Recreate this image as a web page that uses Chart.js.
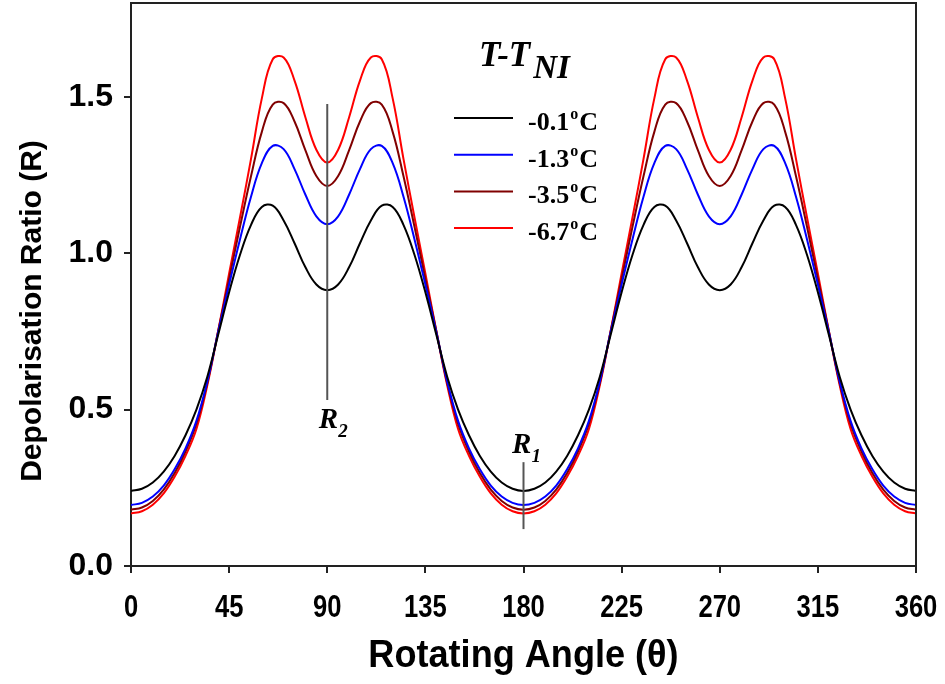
<!DOCTYPE html>
<html>
<head>
<meta charset="utf-8">
<script src="https://cdn.jsdelivr.net/npm/chart.js@4.4.1/dist/chart.umd.min.js"></script>
<style>
    body { margin: 0; background: #fff; }
</style>
</head>
<body>
<canvas id="depolChart" width="945" height="684"></canvas>
<script>
// rotation angle, degrees
const angles = [0, 5, 10, 15, 20, 25, 30, 35, 40, 45, 50, 55, 60, 65, 70, 75, 80, 85, 90,
    95, 100, 105, 110, 115, 120, 125, 130, 135, 140, 145, 150, 155, 160, 165, 170, 175, 180,
    185, 190, 195, 200, 205, 210, 215, 220, 225, 230, 235, 240, 245, 250, 255, 260, 265, 270,
    275, 280, 285, 290, 295, 300, 305, 310, 315, 320, 325, 330, 335, 340, 345, 350, 355, 360];

// depolarisation ratio for each T - T_NI
const ratioM01 = [0.240, 0.247, 0.267, 0.302, 0.352, 0.418, 0.500, 0.605, 0.740, 0.875, 0.995, 1.090, 1.148, 1.152, 1.105, 1.032, 0.955, 0.900, 0.882,
    0.900, 0.955, 1.032, 1.105, 1.152, 1.148, 1.090, 0.995, 0.875, 0.740, 0.605, 0.500, 0.418, 0.352, 0.302, 0.267, 0.247, 0.240,
    0.247, 0.267, 0.302, 0.352, 0.418, 0.500, 0.605, 0.740, 0.875, 0.995, 1.090, 1.148, 1.152, 1.105, 1.032, 0.955, 0.900, 0.882,
    0.900, 0.955, 1.032, 1.105, 1.152, 1.148, 1.090, 0.995, 0.875, 0.740, 0.605, 0.500, 0.418, 0.352, 0.302, 0.267, 0.247, 0.240];
const ratioM13 = [0.195, 0.202, 0.222, 0.257, 0.309, 0.376, 0.464, 0.590, 0.748, 0.900, 1.045, 1.180, 1.288, 1.343, 1.333, 1.269, 1.187, 1.118, 1.093,
    1.118, 1.187, 1.269, 1.333, 1.343, 1.288, 1.180, 1.045, 0.900, 0.748, 0.590, 0.464, 0.376, 0.309, 0.257, 0.222, 0.202, 0.195,
    0.202, 0.222, 0.257, 0.309, 0.376, 0.464, 0.590, 0.748, 0.900, 1.045, 1.180, 1.288, 1.343, 1.333, 1.269, 1.187, 1.118, 1.093,
    1.118, 1.187, 1.269, 1.333, 1.343, 1.288, 1.180, 1.045, 0.900, 0.748, 0.590, 0.464, 0.376, 0.309, 0.257, 0.222, 0.202, 0.195];
const ratioM35 = [0.180, 0.187, 0.208, 0.244, 0.297, 0.366, 0.455, 0.585, 0.752, 0.918, 1.085, 1.245, 1.388, 1.475, 1.480, 1.421, 1.329, 1.247, 1.215,
    1.247, 1.329, 1.421, 1.480, 1.475, 1.388, 1.245, 1.085, 0.918, 0.752, 0.585, 0.455, 0.366, 0.297, 0.244, 0.208, 0.187, 0.180,
    0.187, 0.208, 0.244, 0.297, 0.366, 0.455, 0.585, 0.752, 0.918, 1.085, 1.245, 1.388, 1.475, 1.480, 1.421, 1.329, 1.247, 1.215,
    1.247, 1.329, 1.421, 1.480, 1.475, 1.388, 1.245, 1.085, 0.918, 0.752, 0.585, 0.455, 0.366, 0.297, 0.244, 0.208, 0.187, 0.180];
const ratioM67 = [0.168, 0.175, 0.196, 0.232, 0.285, 0.352, 0.438, 0.578, 0.752, 0.935, 1.115, 1.300, 1.495, 1.620, 1.626, 1.552, 1.434, 1.331, 1.290,
    1.331, 1.434, 1.552, 1.626, 1.620, 1.495, 1.300, 1.115, 0.935, 0.752, 0.578, 0.438, 0.352, 0.285, 0.232, 0.196, 0.175, 0.168,
    0.175, 0.196, 0.232, 0.285, 0.352, 0.438, 0.578, 0.752, 0.935, 1.115, 1.300, 1.495, 1.620, 1.626, 1.552, 1.434, 1.331, 1.290,
    1.331, 1.434, 1.552, 1.626, 1.620, 1.495, 1.300, 1.115, 0.935, 0.752, 0.578, 0.438, 0.352, 0.285, 0.232, 0.196, 0.175, 0.168];

const seriesNames = ['-0.1', '-1.3', '-3.5', '-6.7'];
const xTicks = [0, 45, 90, 135, 180, 225, 270, 315, 360];
const yTicks = [0, 0.5, 1.0, 1.5];

const lineColors = ['#000000', '#0000ff', '#800000', '#ff0000'];
const axisColor = '#222';
const serif = '"Liberation Serif", "Times New Roman", serif';
const sans = '"Liberation Sans", Arial, sans-serif';

const toPoints = vals => vals.map((v, i) => ({ x: angles[i], y: v }));

// frame, x tick labels, axis titles, R1/R2 markers and the legend
const extras = {
    id: 'extras',
    afterDraw(chart) {
        const { ctx, chartArea: a, scales: { x, y } } = chart;
        ctx.save();

        // top and right edges of the box
        ctx.strokeStyle = axisColor;
        ctx.lineWidth = 2;
        ctx.beginPath();
        ctx.moveTo(a.left, a.top);
        ctx.lineTo(a.right, a.top);
        ctx.lineTo(a.right, a.bottom);
        ctx.stroke();

        // x tick labels in a narrow bold face
        ctx.fillStyle = '#000';
        ctx.textAlign = 'center';
        ctx.textBaseline = 'alphabetic';
        ctx.font = 'bold 32px ' + sans;
        xTicks.forEach(v => {
            ctx.save();
            ctx.translate(x.getPixelForValue(v), 617);
            ctx.scale(0.8, 1);
            ctx.fillText(String(v), 0, 0);
            ctx.restore();
        });

        // axis titles
        ctx.textBaseline = 'middle';
        ctx.font = 'bold 30px ' + sans;
        ctx.save();
        ctx.translate(33, 311);
        ctx.rotate(-Math.PI / 2);
        ctx.fillText('Depolarisation Ratio (R)', 0, 0);
        ctx.restore();
        ctx.save();
        ctx.translate((a.left + a.right) / 2, 657);
        ctx.scale(0.95, 1);
        ctx.font = 'bold 38px ' + sans;
        ctx.fillText('Rotating Angle (\u03b8)', 0, 0);
        ctx.restore();

        // R2 / R1 marker lines
        const markers = [
            { angle: 90, from: 1.477, to: 0.531, labelY: 428, sub: '2', shift: 6 },
            { angle: 180, from: 0.332, to: 0.118, labelY: 453, sub: '1', shift: 3 }
        ];
        markers.forEach(m => {
            const px = x.getPixelForValue(m.angle);
            ctx.strokeStyle = '#555';
            ctx.lineWidth = 2;
            ctx.beginPath();
            ctx.moveTo(px, y.getPixelForValue(m.from));
            ctx.lineTo(px, y.getPixelForValue(m.to));
            ctx.stroke();

            ctx.textAlign = 'left';
            ctx.textBaseline = 'alphabetic';
            ctx.font = 'italic bold 29px ' + serif;
            const wR = ctx.measureText('R').width;
            ctx.font = 'italic bold 19px ' + serif;
            const wS = ctx.measureText(m.sub).width;
            const x0 = px + m.shift - (wR + wS) / 2;
            ctx.font = 'italic bold 29px ' + serif;
            ctx.fillText('R', x0, m.labelY);
            ctx.font = 'italic bold 19px ' + serif;
            ctx.fillText(m.sub, x0 + wR, m.labelY + 9);
        });

        // legend
        ctx.textAlign = 'left';
        ctx.textBaseline = 'alphabetic';
        ctx.font = 'italic bold 35px ' + serif;
        ctx.fillText('T-T', 479, 66);
        const wT = ctx.measureText('T-T').width;
        ctx.font = 'italic bold 33px ' + serif;
        ctx.fillText('NI', 479 + wT + 3, 78);

        chart.data.datasets.forEach((ds, i) => {
            const ly = 118 + i * 36.7;
            ctx.strokeStyle = ds.borderColor;
            ctx.lineWidth = 2;
            ctx.beginPath();
            ctx.moveTo(454, ly);
            ctx.lineTo(513, ly);
            ctx.stroke();

            ctx.font = 'bold 26px ' + serif;
            let tx = 528;
            ctx.fillText(seriesNames[i], tx, ly + 12);
            tx += ctx.measureText(seriesNames[i]).width + 1;
            ctx.font = 'bold 16px ' + serif;
            ctx.fillText('o', tx, ly + 1);
            tx += ctx.measureText('o').width + 1;
            ctx.font = 'bold 26px ' + serif;
            ctx.fillText('C', tx, ly + 12);
        });

        ctx.restore();
    }
};

const ctx = document.getElementById('depolChart').getContext('2d');

const depolChart = new Chart(ctx, {
    type: 'line',
    data: {
        datasets: [ratioM01, ratioM13, ratioM35, ratioM67].map((vals, i) => ({
            label: seriesNames[i] + '\u00b0C',
            data: toPoints(vals),
            borderColor: lineColors[i],
            borderWidth: 2,
            pointRadius: 0,
            tension: 0.4,
            fill: false
        }))
    },
    options: {
        responsive: false,
        animation: false,
        layout: { padding: { top: 3, right: 29, left: 0, bottom: 0 } },
        plugins: {
            legend: { display: false },
            tooltip: { enabled: false }
        },
        scales: {
            x: {
                type: 'linear',
                min: 0,
                max: 360,
                afterBuildTicks: scale => { scale.ticks = xTicks.map(v => ({ value: v })); },
                afterFit: scale => {
                    scale.height = 118;
                    scale.paddingLeft = 0;
                    scale.paddingRight = 0;
                },
                grid: { drawOnChartArea: false, color: axisColor, lineWidth: 2, tickLength: 7 },
                border: { color: axisColor, width: 2 },
                ticks: { display: false }
            },
            y: {
                min: 0,
                max: 1.8,
                afterBuildTicks: scale => { scale.ticks = yTicks.map(v => ({ value: v })); },
                afterFit: scale => {
                    scale.width = 131;
                    scale.paddingTop = 0;
                    scale.paddingBottom = 0;
                },
                grid: { drawOnChartArea: false, color: axisColor, lineWidth: 2, tickLength: 7 },
                border: { color: axisColor, width: 2 },
                ticks: {
                    color: '#000',
                    padding: 11,
                    callback: v => v.toFixed(1),
                    font: { family: sans, size: 32, weight: 'bold' }
                }
            }
        }
    },
    plugins: [extras]
});
</script>
</body>
</html>
